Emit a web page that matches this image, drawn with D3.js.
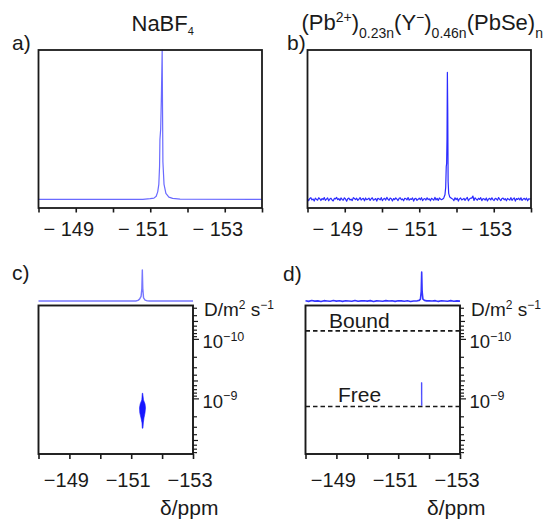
<!DOCTYPE html>
<html><head><meta charset="utf-8">
<script src="https://cdn.jsdelivr.net/npm/d3@7"></script>
<style>
html,body{margin:0;padding:0;background:#fff;}
svg{display:block;font-family:"Liberation Sans",Arial,Helvetica,sans-serif;}
</style></head><body>
<svg id="chart" width="547" height="519"></svg>
<script>
// ---------------- data ----------------
const ppmTicksAB = [-148, -149, -150, -151, -152, -153, -154];
const ppmLabelsAB = [-149, -151, -153];
const ppmTicksCD = [-148, -149, -150, -151, -152, -153];
const ppmLabelsCD = [-149, -151, -153];
const dDomain = [2.75e-11, 8.6e-9];
const dMajor = [1e-10, 1e-9];

// a) NaBF4 1D spectrum [ppm, intensity]
const specA = [[-148, 0], [-150.8, 0], [-151.0, 0.4], [-151.1, 0.8], [-151.16, 2], [-151.2, 5],
  [-151.23, 10], [-151.25, 22], [-151.26, 40], [-151.28, 47], [-151.3, 70], [-151.32, 100],
  [-151.33, 60], [-151.34, 25], [-151.37, 10], [-151.42, 4], [-151.5, 1.5], [-151.6, 0.6],
  [-151.8, 0.1], [-154, 0]];

// b) baseline noise, sampled every 0.03 ppm from -148
const noiseBStart = -148, noiseBStep = -0.03;
const noiseB = [
  0.3,-0.9,0.6,1.1,-0.4,0.2,-1.2,0.8,0.0,-0.6,
  1.0,0.4,-0.8,0.5,-0.2,1.2,-0.7,0.1,0.9,-1.0,
  0.2,0.7,-0.5,-1.1,0.6,0.3,1.3,-0.3,0.5,-0.8,
  0.9,-0.1,-0.6,1.0,0.2,-1.3,0.4,0.8,-0.4,0.1,
  -0.9,1.1,0.5,-0.2,0.7,-0.7,0.0,1.2,-0.5,0.3,
  0.6,-1.0,0.9,-0.3,0.1,0.8,-0.8,0.4,1.0,-0.6,
  -0.1,0.5,-1.2,0.7,0.3,-0.4,1.1,-0.9,0.2,0.6,
  -0.5,1.3,0.0,-0.7,0.8,0.4,-1.1,0.5,-0.2,0.9,
  0.1,-0.8,0.6,1.0,-0.3,0.2,-1.0,0.7,0.5,-0.4,
  1.2,-0.6,0.3,-0.1,0.9,-1.2,0.4,0.6,-0.7,0.0,
  0.8,-0.3,1.1,-0.9,0.2,0.5,-0.5,1.0,-0.2,0.3,
  -1.0,0.7,0.1,-0.6,1.3,-0.4,0.6,-0.8,0.9,0.2,
  -0.3,0.5,-1.1,0.8,0.0,0.4,-0.7,1.1,-0.5,0.6,
  0.2,-0.9,1.0,-0.2,0.7,-1.2,0.3,0.9,-0.4,0.1,
  0.6,-0.7,0.4,1.2,-1.0,0.2,0.8,0.8,2.2,-0.8,
  1.0,0.1,-0.6,0.7,-0.1,1.1,-0.9,0.4,0.3,-0.5,
  0.9,-1.1,0.2,0.6,-0.4,1.0,-0.2,-0.8,0.7,0.3,
  -0.6,1.2,0.0,-0.9,0.5,0.8,-0.3,0.4,-1.0,0.6,
  0.1,-0.5,1.1,-0.7,0.3,0.9,-1.2,0.5,-0.1,0.7,
  -0.4,1.0,-0.8,0.2,0.6,-0.3,0.8,-1.0,0.4,0.1,
  0.5];
const peakB = [[-151.64, 0.3], [-151.66, 1.0], [-151.69, 3], [-151.71, 8], [-151.725, 22],
  [-151.735, 24], [-151.745, 40], [-151.755, 85], [-151.765, 60], [-151.775, 12],
  [-151.79, 4], [-151.82, 1.5], [-151.87, 0.5]];

// c) projection above the 2D map
const specCtop = [[-148, 0], [-151.15, 0], [-151.22, 2], [-151.27, 6], [-151.32, 15],
  [-151.345, 40], [-151.36, 100], [-151.375, 40], [-151.4, 10], [-151.45, 3],
  [-151.52, 0.5], [-151.6, 0], [-153, 0]];
// c) 2D cross peak outline [ppm, D]
const blobC = [[-151.372, 8.18e-10], [-151.398, 1.06e-9], [-151.447, 1.24e-9], [-151.463, 1.44e-9],
  [-151.447, 1.75e-9], [-151.414, 2.13e-9], [-151.392, 2.58e-9], [-151.379, 3.17e-9],
  [-151.359, 3.17e-9], [-151.35, 2.58e-9], [-151.317, 2.13e-9], [-151.278, 1.75e-9],
  [-151.269, 1.44e-9], [-151.291, 1.24e-9], [-151.343, 1.06e-9], [-151.359, 8.18e-10]];

// d) projection noise every 0.1 ppm from -148
const noiseDStart = -148, noiseDStep = -0.1;
const noiseD = [
  0.8,-1.2,1.5,-0.5,0.3,-1.6,1.1,0.2,-0.9,1.4,
  -0.3,0.6,-1.3,0.9,0.0,-0.7,1.6,-1.0,0.4,0.7,
  -0.4,1.2,-1.5,0.5,0.1,-0.8,1.3,-0.2,0.6,-1.1,
  0.9,0.3,-0.6,1.0,-1.4,0.2,0.8,-0.5,1.5,-0.9,
  0.4,-0.2,1.1,-1.3,0.7,0.0,-0.6,1.2,-0.8,0.5,-0.3];
const peakDtop = [[-151.62, 0.5], [-151.68, 2], [-151.72, 6], [-151.745, 30], [-151.76, 93],
  [-151.775, 30], [-151.8, 6], [-151.85, 2], [-151.92, 0.5]];
const peakD2 = [[-151.748, 5.42e-10], [-151.772, 5.42e-10], [-151.774, 1.32e-9], [-151.75, 1.32e-9]];
const boundD = 7.34e-11, freeD = 1.37e-9;

// ---------------- drawing ----------------
const svg = d3.select("#chart");
svg.append("rect").attr("width", 547).attr("height", 519).attr("fill", "#fff");
const INK = "#1a1a1a";

function mergeNoise(start, step, vals, peak, lo, hi) {
  return vals.map((v, i) => [start + step * i, v])
    .filter(p => p[0] > hi || p[0] < lo)
    .concat(peak).sort((a, b) => b[0] - a[0]);
}

function panel1D(x0, x1, data, color, width) {
  const top = 50, axisY = 208;
  const x = d3.scaleLinear().domain([-148, -154]).range([x0, x1]);
  const y = d3.scaleLinear().domain([0, 100]).range([199.3, top]);
  const g = svg.append("g");
  g.append("path").datum(data)
    .attr("d", d3.line().x(d => x(d[0])).y(d => y(d[1])))
    .attr("fill", "none").attr("stroke", color).attr("stroke-width", width)
    .attr("stroke-linejoin", "round");
  const ax = g.append("g").attr("transform", `translate(0,${axisY})`)
    .call(d3.axisBottom(x).tickValues(ppmTicksAB).tickSize(4.5).tickFormat(""));
  ax.select(".domain").remove();
  ax.selectAll(".tick line").attr("stroke", INK).attr("stroke-width", 1.6);
  g.append("rect").attr("x", x0).attr("y", top).attr("width", x1 - x0).attr("height", axisY - top)
    .attr("fill", "none").attr("stroke", INK).attr("stroke-width", 1.8);
  ppmLabelsAB.forEach(v => {
    g.append("text").attr("x", x(v) - 7).attr("y", 235.5).attr("text-anchor", "middle")
      .attr("font-size", 20).attr("fill", INK).text("\u2212 " + Math.abs(v));
  });
  return x;
}

function panel2D(x0, x1, topData, topColor, topWidth) {
  const top = 305.5, bot = 454;
  const x = d3.scaleLinear().domain([-148, -153]).range([x0, x1]);
  const yT = d3.scaleLinear().domain([0, 100]).range([301, 270]);
  const yD = d3.scaleLog().domain(dDomain).range([top, bot]);
  const g = svg.append("g");
  g.append("path").datum(topData)
    .attr("d", d3.line().x(d => x(d[0])).y(d => yT(d[1])))
    .attr("fill", "none").attr("stroke", topColor).attr("stroke-width", topWidth)
    .attr("stroke-linejoin", "round");
  const ax = g.append("g").attr("transform", `translate(0,${bot})`)
    .call(d3.axisBottom(x).tickValues(ppmTicksCD).tickSize(5).tickFormat(""));
  ax.select(".domain").remove();
  ax.selectAll(".tick line").attr("stroke", INK).attr("stroke-width", 1.6);
  // log ticks
  const lv = [];
  [-11, -10, -9].forEach(n => { for (let m = 1; m <= 9; m++) { const v = +(m + "e" + n); if (v >= dDomain[0] && v <= dDomain[1]) lv.push(v); } });
  const ay = g.append("g").attr("transform", `translate(${x1},0)`)
    .call(d3.axisRight(yD).tickValues(lv).tickSize(4).tickFormat(""));
  ay.select(".domain").remove();
  ay.selectAll(".tick line").attr("stroke", INK).attr("stroke-width", 1.2)
    .attr("x2", d => { const m = Math.round(d / Math.pow(10, Math.floor(Math.log10(d) + 1e-9))); return m === 1 ? 6 : (m === 5 ? 5 : 4); });
  g.append("rect").attr("x", x0).attr("y", top).attr("width", x1 - x0).attr("height", bot - top)
    .attr("fill", "none").attr("stroke", INK).attr("stroke-width", 1.9);
  ppmLabelsCD.forEach(v => {
    g.append("text").attr("x", x(v) - 3).attr("y", 486.7).attr("text-anchor", "middle")
      .attr("font-size", 20).attr("fill", INK).text("\u2212" + Math.abs(v));
  });
  // D labels
  dMajor.forEach(v => {
    const t = g.append("text").attr("x", x1 + 9.5).attr("y", yD(v) + 9.6)
      .attr("font-size", 18.5).attr("fill", INK);
    t.append("tspan").text("10");
    t.append("tspan").attr("font-size", 12.5).attr("dy", -7.5).text("\u2212" + Math.round(-Math.log10(v)));
  });
  const dl = g.append("text").attr("x", x1 + 11).attr("y", 315.5).attr("font-size", 19).attr("fill", INK);
  dl.append("tspan").text("D/m");
  dl.append("tspan").attr("font-size", 12).attr("dy", -7).text("2");
  dl.append("tspan").attr("dy", 7).text(" s");
  dl.append("tspan").attr("font-size", 12).attr("dy", -7).text("\u22121");
  g.append("text").attr("x", x1 - 33).attr("y", 514.5).attr("font-size", 21).attr("fill", INK).text("\u03b4/ppm");
  return { g, x, yD };
}

// a)
panel1D(38.5, 262, specA, "#6a6aff", 1.2);
// b)
panel1D(307.5, 531, mergeNoise(noiseBStart, noiseBStep, noiseB, peakB, -151.88, -151.63), "#2b2bff", 1.2);

// c)
const pc = panel2D(38.5, 193, specCtop, "#7777ff", 1.4);
pc.g.append("path").datum(blobC)
  .attr("d", d3.line().x(d => pc.x(d[0])).y(d => pc.yD(d[1])).curve(d3.curveLinearClosed))
  .attr("fill", "#1616ff").attr("stroke", "#1616ff").attr("stroke-width", 0.6);

// d)
const pd = panel2D(305.5, 460, mergeNoise(noiseDStart, noiseDStep, noiseD, peakDtop, -151.95, -151.6), "#3535ff", 1.6);
[boundD, freeD].forEach(v => {
  pd.g.append("line").attr("x1", 305.5).attr("x2", 460).attr("y1", pd.yD(v)).attr("y2", pd.yD(v))
    .attr("stroke", INK).attr("stroke-width", 1.6).attr("stroke-dasharray", "4.5,3");
});
pd.g.append("path").datum(peakD2)
  .attr("d", d3.line().x(d => pd.x(d[0])).y(d => pd.yD(d[1])).curve(d3.curveLinearClosed))
  .attr("fill", "#2a2aff").attr("stroke", "#2a2aff").attr("stroke-width", 0.4);
pd.g.append("text").attr("x", 329).attr("y", pd.yD(boundD) - 3).attr("font-size", 21).attr("fill", INK).text("Bound");
pd.g.append("text").attr("x", 338).attr("y", pd.yD(freeD) - 4.5).attr("font-size", 21).attr("fill", INK).text("Free");

// panel letters and titles
[["a)", 12, 49.5], ["b)", 287, 49.5], ["c)", 12, 280], ["d)", 283, 281]].forEach(([s, x, y]) => {
  svg.append("text").attr("x", x).attr("y", y).attr("font-size", 21).attr("fill", INK).text(s);
});
const tA = svg.append("text").attr("x", 131.5).attr("y", 31).attr("font-size", 22).attr("fill", INK);
tA.append("tspan").text("NaBF");
tA.append("tspan").attr("font-size", 11).attr("dy", 4).text("4");

const tB = svg.append("text").attr("x", 301.5).attr("y", 30).attr("font-size", 22).attr("fill", INK);
const parts = [["(Pb", 0, 22], ["2+", -8, 14], [")", 8, 22], ["0.23n", 8, 14], ["(Y", -8, 22],
  ["\u2212", -8, 14], [")", 8, 22], ["0.46n", 8, 14], ["(PbSe)", -8, 22], ["n", 8, 14]];
parts.forEach(([s, dy, fs]) => tB.append("tspan").attr("dy", dy).attr("font-size", fs).text(s));
</script>
</body></html>
